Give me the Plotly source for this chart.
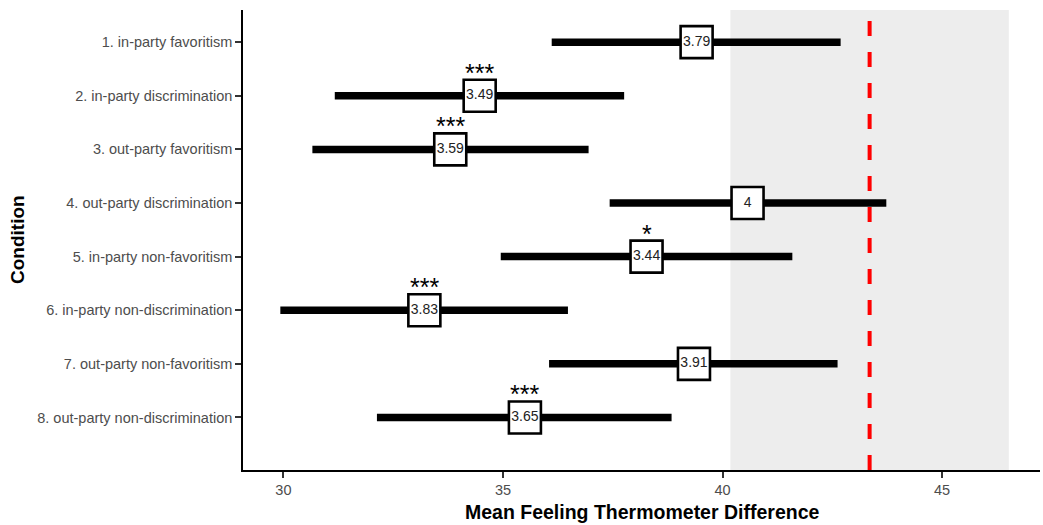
import plotly.graph_objects as go

conditions = [
    "1. in-party favoritism",
    "2. in-party discrimination",
    "3. out-party favoritism",
    "4. out-party discrimination",
    "5. in-party non-favoritism",
    "6. in-party non-discrimination",
    "7. out-party non-favoritism",
    "8. out-party non-discrimination",
]
means = [39.41, 34.47, 33.80, 40.57, 38.27, 33.21, 39.35, 35.50]
ci_low = [36.11, 31.17, 30.66, 37.43, 34.95, 29.93, 36.05, 32.13]
ci_high = [42.69, 37.76, 36.95, 43.73, 41.59, 36.48, 42.62, 38.84]
box_labels = ["3.79", "3.49", "3.59", "4", "3.44", "3.83", "3.91", "3.65"]
stars = ["", "***", "***", "", "*", "***", "", "***"]
band_low, band_high = 40.18, 46.52
ref_value = 43.35
x_ticks = [30, 35, 40, 45]

rows = list(range(1, len(conditions) + 1))

fig = go.Figure()

# error bar segments
lx, ly = [], []
for r, lo, hi in zip(rows, ci_low, ci_high):
    lx += [lo, hi, None]
    ly += [r, r, None]
fig.add_trace(go.Scatter(x=lx, y=ly, mode="lines",
                         line=dict(color="black", width=7.5),
                         hoverinfo="skip", showlegend=False))

# label boxes
fig.add_trace(go.Scatter(
    x=means, y=rows, mode="markers+text",
    marker=dict(symbol="square", size=32, color="white",
                line=dict(color="black", width=2.6)),
    text=box_labels, textposition="middle center",
    textfont=dict(family="Liberation Sans, Arial", size=14, color="#222222"),
    showlegend=False, hoverinfo="skip"))

for r, m, s in zip(rows, means, stars):
    if s:
        fig.add_annotation(x=m, y=r, text=s, showarrow=False,
                           yshift=23, yanchor="middle",
                           font=dict(family="Liberation Sans, Arial", size=25, color="black"))

fig.add_shape(type="rect", xref="x", yref="paper", x0=band_low, x1=band_high,
              y0=0, y1=1, fillcolor="#EDEDED", line=dict(width=0), layer="below")
fig.add_shape(type="line", xref="x", yref="paper", x0=ref_value, x1=ref_value,
              y0=0, y1=1, line=dict(color="#FF0000", width=4, dash="15px,16px"),
              layer="above")

fig.add_annotation(xref="paper", yref="paper", x=0.5, y=0, yanchor="middle",
                   yshift=-42, text="<b>Mean Feeling Thermometer Difference</b>",
                   showarrow=False,
                   font=dict(family="Liberation Sans, Arial", size=19.5, color="black"))
fig.add_annotation(xref="paper", yref="paper", x=0, y=0.5, xanchor="center",
                   xshift=-226, textangle=-90, text="<b>Condition</b>",
                   showarrow=False,
                   font=dict(family="Liberation Sans, Arial", size=19, color="black"))

fig.update_xaxes(range=[29.08, 47.23], tickvals=x_ticks,
                 ticktext=[str(t) for t in x_ticks],
                 showline=True, linecolor="black", linewidth=1.6,
                 ticks="outside", ticklen=6, tickwidth=1.6, tickcolor="#333333",
                 showgrid=False, zeroline=False, automargin=False,
                 tickfont=dict(family="Liberation Sans, Arial", size=14.5, color="#4D4D4D"))
fig.update_yaxes(range=[8.98, 0.4], tickvals=rows, ticktext=conditions,
                 showline=True, linecolor="black", linewidth=1.6,
                 ticks="outside", ticklen=6, tickwidth=1.6, tickcolor="#333333",
                 showgrid=False, zeroline=False, automargin=False,
                 tickfont=dict(family="Liberation Sans, Arial", size=14.5, color="#4D4D4D"))

fig.update_layout(width=1043, height=525,
                  margin=dict(l=243, r=3, t=10, b=55),
                  plot_bgcolor="white", paper_bgcolor="white",
                  showlegend=False)

fig.write_html("out.html", config={"displayModeBar": False},
               post_script="document.body.style.margin='0';")
